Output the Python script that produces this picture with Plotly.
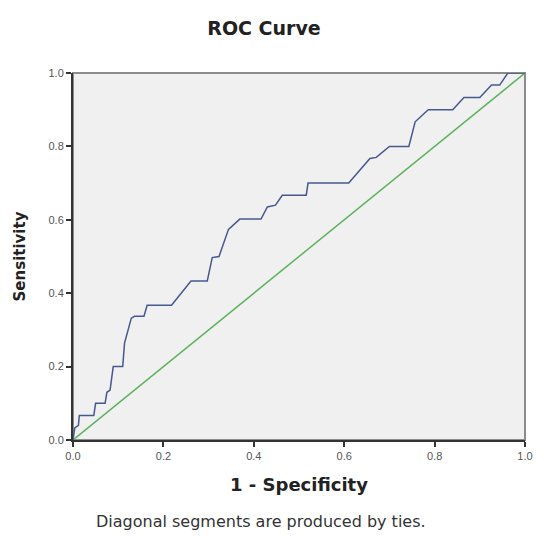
import plotly.graph_objects as go

# ROC curve points
fpr = [0, 0.004, 0.012, 0.014, 0.046, 0.05, 0.071, 0.075, 0.082, 0.089, 0.11, 0.114,
       0.129, 0.136, 0.157, 0.164, 0.218, 0.261, 0.297, 0.308, 0.323, 0.338, 0.344,
       0.369, 0.416, 0.43, 0.448, 0.463, 0.516, 0.52, 0.61, 0.657, 0.671, 0.7, 0.743,
       0.757, 0.786, 0.84, 0.865, 0.9, 0.926, 0.944, 0.962, 1.0]
tpr = [0, 0.033, 0.04, 0.067, 0.067, 0.1, 0.1, 0.13, 0.136, 0.2, 0.2, 0.264,
       0.332, 0.337, 0.337, 0.367, 0.367, 0.433, 0.433, 0.497, 0.5, 0.55, 0.574,
       0.602, 0.602, 0.635, 0.64, 0.667, 0.667, 0.7, 0.7, 0.767, 0.77, 0.8, 0.8,
       0.867, 0.9, 0.9, 0.933, 0.933, 0.967, 0.967, 1.0, 1.0]
ref_x = [0, 1]
ref_y = [0, 1]
tick_vals = [0, 0.2, 0.4, 0.6, 0.8, 1.0]
tick_text = ["0.0", "0.2", "0.4", "0.6", "0.8", "1.0"]

FONT = "Liberation Sans, Arial, sans-serif"
WIDE = "DejaVu Sans, Verdana, sans-serif"
W, H = 544, 536

fig = go.Figure()
fig.add_trace(go.Scatter(x=ref_x, y=ref_y, mode="lines",
                         line=dict(color="#5db35d", width=1.5),
                         showlegend=False, hoverinfo="skip", cliponaxis=False))
fig.add_trace(go.Scatter(x=fpr, y=tpr, mode="lines",
                         line=dict(color="#46598c", width=1.5),
                         showlegend=False, cliponaxis=False))

axis_common = dict(range=[0, 1], tickvals=tick_vals, ticktext=tick_text,
                   showgrid=False, zeroline=False, ticks="outside", ticklen=5,
                   tickwidth=1.5, tickcolor="#333333", showline=True,
                   linecolor="#333333", linewidth=2,
                   tickfont=dict(family=FONT, size=11, color="#555555"))

fig.update_layout(
    width=W, height=H,
    margin=dict(l=73, r=11, t=73, b=96),
    paper_bgcolor="white", plot_bgcolor="#f0f0f0",
    title=dict(text="<b>ROC Curve</b>", x=264/W, xanchor="center",
               y=1 - 28/H, yanchor="middle",
               font=dict(family=WIDE, size=19, color="#222222")),
    xaxis=dict(**axis_common,
               title=dict(text="<b>1 - Specificity</b>", standoff=17,
                          font=dict(family=WIDE, size=18, color="#222222"))),
    yaxis=dict(**axis_common,
               title=dict(text="<b>Sensitivity</b>", standoff=19,
                          font=dict(family=WIDE, size=15, color="#222222"))),
    shapes=[dict(type="rect", xref="paper", yref="paper", x0=0, x1=1, y0=0, y1=1,
                 line=dict(color="#8c8c8c", width=2), layer="below")],
    annotations=[dict(text="Diagonal segments are produced by ties.",
                      xref="paper", yref="paper", x=(264 - 73) / 460, y=-(521 - 440) / 367,
                      xanchor="center", yanchor="middle", showarrow=False,
                      font=dict(family=WIDE, size=16, color="#333333"))],
)

fig.write_html("out.html", config={"displayModeBar": False},
               post_script="document.body.style.margin='0';document.body.style.overflow='hidden';")
